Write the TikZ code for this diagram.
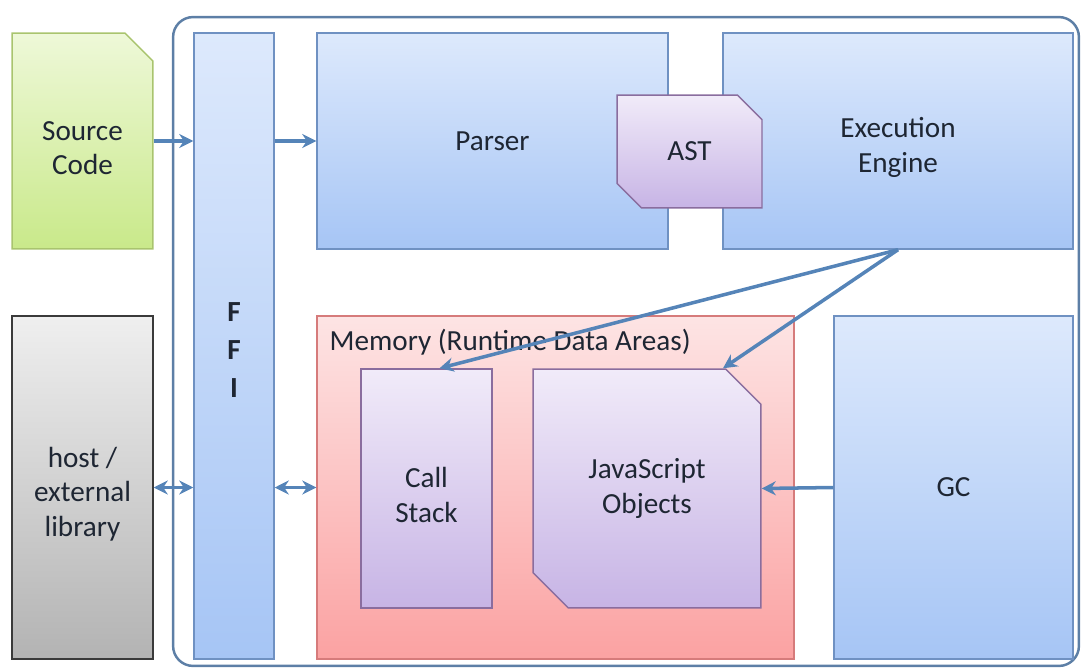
\documentclass[tikz,border=0pt]{standalone}
\usepackage{fontspec}
\setmainfont{Carlito}
\usetikzlibrary{arrows.meta,shapes.misc}
\definecolor{ink}{HTML}{1E2633}
\definecolor{frame}{HTML}{5D7FA6}
\definecolor{flowline}{HTML}{5584B8}
\definecolor{blueline}{HTML}{6F91C2}
\definecolor{bluetop}{HTML}{DDE9FC}
\definecolor{bluebot}{HTML}{A6C5F5}
\definecolor{greenline}{HTML}{A9C46E}
\definecolor{greentop}{HTML}{EEF8D8}
\definecolor{greenbot}{HTML}{C9E98A}
\definecolor{grayline}{HTML}{3A3A3A}
\definecolor{graytop}{HTML}{EFEFEF}
\definecolor{graybot}{HTML}{B3B3B3}
\definecolor{purpleline}{HTML}{8A6D9E}
\definecolor{purpletop}{HTML}{F1EBF9}
\definecolor{purplebot}{HTML}{C7B4E5}
\definecolor{pinkline}{HTML}{D67B7B}
\definecolor{pinktop}{HTML}{FDE4E4}
\definecolor{pinkbot}{HTML}{FBA2A2}
\newcommand\lift{\rule{0pt}{19pt}}

\begin{document}
\begin{tikzpicture}[x=0.02cm,y=-0.02cm,
    every node/.style={font=\fontsize{16.6}{19.6}\selectfont, text=ink, align=center, inner sep=0pt},
    box/.style={draw, line width=0.85pt},
    bluebox/.style={box, draw=blueline, top color=bluetop, bottom color=bluebot},
    greenbox/.style={box, draw=greenline, top color=greentop, bottom color=greenbot},
    graybox/.style={box, draw=grayline, top color=graytop, bottom color=graybot},
    purplebox/.style={box, draw=purpleline, top color=purpletop, bottom color=purplebot},
    pinkbox/.style={box, draw=pinkline, top color=pinktop, bottom color=pinkbot},
    cut/.style={chamfered rectangle, chamfered rectangle corners={#1}},
    flow/.style={draw=flowline, line width=2pt, -{Stealth[length=8pt,width=8pt]}},
    biflow/.style={flow, {Stealth[length=8pt,width=8pt]}-{Stealth[length=8pt,width=8pt]}},
  ]
  \useasboundingbox (0,0) rectangle (1081,669);
  \node[draw=frame, line width=1.4pt, rounded corners=0.4cm, minimum width=18.12cm, minimum height=12.98cm] (vm) at (626,341.5) {};

  \node[greenbox, cut={north east}, chamfered rectangle xsep=0.45cm, minimum width=2.82cm, minimum height=4.32cm] (src) at (82.5,141) {\lift Source\\Code};
  \node[graybox, minimum width=2.82cm, minimum height=6.86cm] (host) at (82.5,487.5) {\lift host /\\external\\library};
  \node[bluebox, minimum width=1.6cm, minimum height=12.52cm] (ffi) at (234,346) {};
  \node[font=\fontsize{16.6}{21.5}\selectfont\bfseries] (ffilbl) at (234,350) {F\\F\\I};
  \node[bluebox, minimum width=7.02cm, minimum height=4.32cm] (parser) at (492.5,141) {Parser};
  \node[bluebox, minimum width=7cm, minimum height=4.32cm] (exec) at (898,141) {\lift Execution\\Engine};
  \node[purplebox, cut={north east,south west}, inner sep=0.5cm, chamfered rectangle xsep=0.38cm, minimum width=2.9cm, minimum height=2.26cm] (ast) at (689.5,151.5) {AST};

  \node[pinkbox, minimum width=9.54cm, minimum height=6.86cm] (mem) at (555.5,487.5) {};
  \node[anchor=west] (memlbl) at ([xshift=0.26cm,yshift=-0.54cm]mem.north west) {Memory (Runtime Data Areas)};
  \node[purplebox, minimum width=2.62cm, minimum height=4.78cm] (stack) at (426.5,488.5) {\lift Call\\Stack};
  \node[purplebox, cut={north east,south west}, chamfered rectangle xsep=0.76cm, minimum width=4.56cm, minimum height=4.78cm] (jso) at (647,488.5) {JavaScript\\Objects};
  \node[bluebox, minimum width=4.78cm, minimum height=6.86cm] (gc) at (953.5,487.5) {GC};

  \draw[flow] (src.east) -- (ffi.west |- src.east);
  \draw[flow] (ffi.east |- parser.west) -- (parser.west);
  \draw[biflow] (host.east) -- (ffi.west |- host.east);
  \draw[biflow] (ffi.east |- mem.west) -- (mem.west);
  \draw[flow] (exec.south) -- ([xshift=0.26cm]stack.north);
  \draw[flow] (exec.south) -- ([xshift=1.52cm]jso.north);
  \draw[flow] (gc.west) -- (jso.east);
\end{tikzpicture}
\end{document}
